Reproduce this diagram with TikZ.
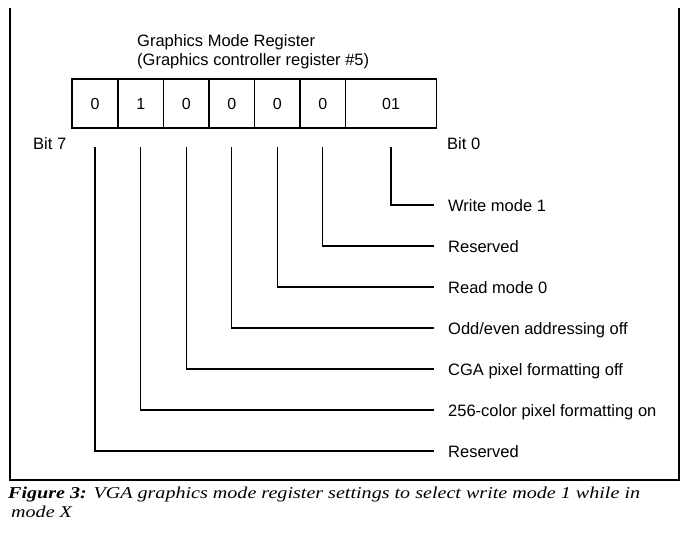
\documentclass[tikz,border=0pt]{standalone}
\usepackage{fontspec}
\setmainfont{Liberation Sans}
\newfontfamily\capfont[FakeStretch=1.21]{Liberation Serif}
\begin{document}
\begin{tikzpicture}[x=1pt,y=-1pt,
  cell/.style={draw,line width=1.5pt,outer sep=0pt,minimum height=49pt,inner sep=0pt,font=\fontsize{16}{19}\selectfont},
  lab/.style={anchor=west,inner sep=2pt,text height=12pt,text depth=0pt,font=\fontsize{16.5}{20}\selectfont},
  conn/.style={line width=1.2pt},
  frame/.style={line width=1.2pt},
  captext/.style={anchor=base west,inner sep=0pt,font=\capfont\fontsize{16.6}{20}\selectfont\itshape}]
\useasboundingbox (0,0) rectangle (688,536);
% frame (open at top)
\coordinate (ftl) at (10,8);
\coordinate (fbl) at (10,480);
\coordinate (fbr) at (679,480);
\coordinate (ftr) at (679,8);
\draw[frame] (ftl) -- (fbl) -- (fbr) -- (ftr);
% title
\node[anchor=north west,inner sep=0pt,align=left,font=\fontsize{16.5}{18.5}\selectfont] (title) at (137,34.5)
  {Graphics Mode Register\\(Graphics controller register \#5)};
% register cells
\node[cell,minimum width=46pt] (c7) at (95,103.5) {0};
\node[cell,minimum width=45.5pt,anchor=west] (c6) at (c7.east) {1};
\node[cell,minimum width=45.5pt,anchor=west] (c5) at (c6.east) {0};
\node[cell,minimum width=45.5pt,anchor=west] (c4) at (c5.east) {0};
\node[cell,minimum width=45.5pt,anchor=west] (c3) at (c4.east) {0};
\node[cell,minimum width=45.5pt,anchor=west] (c2) at (c3.east) {0};
\node[cell,minimum width=91pt,anchor=west] (c1) at (c2.east) {01};
% bit labels
\node[lab,anchor=west] (b7) at (31,143) {Bit 7};
\node[lab,anchor=west] (b0) at (445,143) {Bit 0};
% field labels
\node[lab] (l1) at (446,205) {Write mode 1};
\node[lab] (l2) at (446,246) {Reserved};
\node[lab] (l3) at (446,287) {Read mode 0};
\node[lab] (l4) at (446,328) {Odd/even addressing off};
\node[lab] (l5) at (446,369) {CGA pixel formatting off};
\node[lab] (l6) at (446,410) {256-color pixel formatting on};
\node[lab] (l7) at (446,451) {Reserved};
% connectors
\foreach \c/\l in {c1/l1,c2/l2,c3/l3,c4/l4,c5/l5,c6/l6,c7/l7}
  \draw[conn] ([yshift=-19pt]\c.south) |- ([xshift=-12pt]\l.west);
% caption
\node[captext] (cap1) at (8,498)
  {\textbf{Figure 3:} VGA graphics mode register settings to select write mode 1 while in};
\node[captext] (cap2) at (11,517) {mode X};
\end{tikzpicture}
\end{document}
